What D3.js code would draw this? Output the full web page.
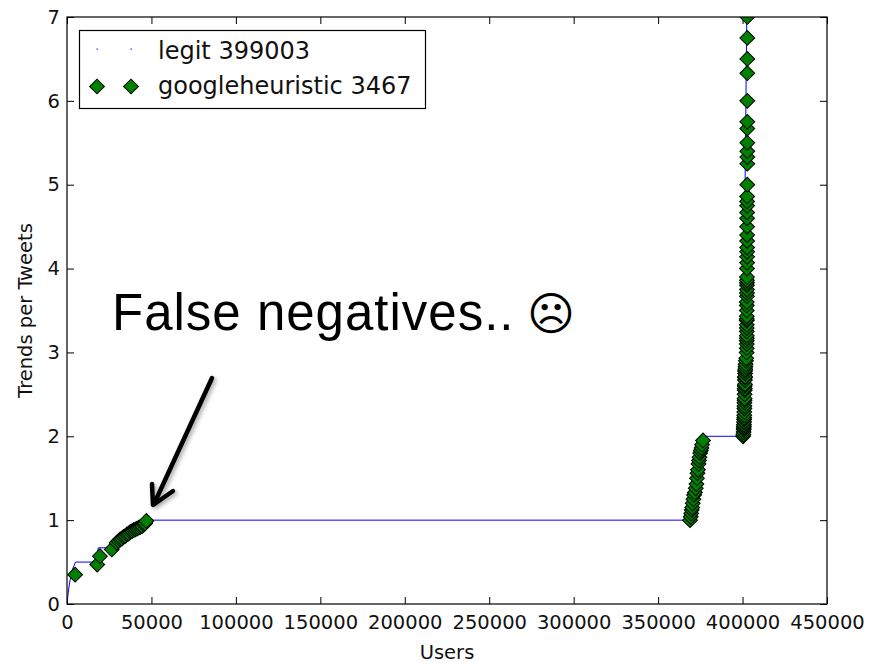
<!DOCTYPE html>
<html>
<head>
<meta charset="utf-8">
<script src="https://cdn.jsdelivr.net/npm/d3@7"></script>
<style>
  body { margin: 0; background: #fff; }
  .axis text { font-family: "DejaVu Sans", sans-serif; font-size: 19.5px; fill: #111; }
  .axis line { stroke: #000; }
</style>
</head>
<body>
<script>
// Chart Params
var svgWidth = 881;
var svgHeight = 664;
var margin = { top: 17, right: 54, bottom: 60, left: 67 };
var width = svgWidth - margin.left - margin.right;
var height = svgHeight - margin.top - margin.bottom;

// ticks
var xTicks = [0, 50000, 100000, 150000, 200000, 250000, 300000, 350000, 400000, 450000];
var yTicks = [0, 1, 2, 3, 4, 5, 6, 7];

// legit series (step-ish curve)
var legitX = [0, 500, 1500, 3000, 5000, 17500, 18500, 25000, 28000, 32000, 36000, 40000, 44000, 48000,
  368000, 369000, 371000, 373000, 375000, 376500, 400000, 400800, 401500, 402500];
var legitY = [0, 0.1, 0.25, 0.4, 0.5, 0.5, 0.67, 0.67, 0.75, 0.8, 0.85, 0.9, 0.95, 1.0,
  1.0, 1.1, 1.3, 1.5, 1.75, 2.0, 2.0, 3.0, 5.0, 7.0];

// googleheuristic points, three clusters
var googleLow = [[4800, 0.35], [17900, 0.47], [19500, 0.57], [26500, 0.65], [29400, 0.73], [30500, 0.75],
  [31500, 0.77], [32500, 0.78], [33500, 0.8], [34500, 0.81], [35500, 0.83], [36500, 0.84], [37500, 0.86],
  [38500, 0.87], [39500, 0.88], [40500, 0.89], [41500, 0.9], [42500, 0.91], [43500, 0.92], [44500, 0.93],
  [45500, 0.95], [46200, 0.96], [47000, 0.99]];
var googleMid = [[368900, 1.0], [369300, 1.04], [369600, 1.08], [369900, 1.12], [370200, 1.15], [370500, 1.2],
  [370900, 1.25], [371300, 1.3], [371800, 1.33], [372300, 1.38], [372700, 1.43], [373000, 1.5],
  [373300, 1.56], [373600, 1.6], [373900, 1.67], [374200, 1.71], [374500, 1.75], [374900, 1.8],
  [375300, 1.83], [375700, 1.86], [376000, 1.9], [376600, 1.95]];
var googleHigh = [[400300, 2.0], [400500, 2.02], [400600, 2.05], [400700, 2.08], [400700, 2.1], [400800, 2.12],
  [400800, 2.14], [400900, 2.17], [400900, 2.2], [401000, 2.22], [401000, 2.25], [401000, 2.29], [401100, 2.33],
  [401100, 2.36], [401100, 2.4], [401200, 2.43], [401200, 2.45], [401200, 2.5], [401300, 2.55], [401300, 2.57],
  [401300, 2.6], [401400, 2.62], [401400, 2.67], [401400, 2.7], [401500, 2.71], [401500, 2.75], [401500, 2.78],
  [401600, 2.8], [401700, 2.83], [401800, 2.86], [402000, 2.9], [402200, 2.93], [402400, 3.0], [402500, 3.05],
  [402500, 3.1], [402500, 3.14], [402500, 3.17], [402500, 3.2], [402500, 3.25], [402500, 3.29], [402500, 3.33],
  [402500, 3.38], [402500, 3.4], [402500, 3.43], [402500, 3.5], [402500, 3.56], [402500, 3.6], [402600, 3.67],
  [402600, 3.71], [402600, 3.75], [402600, 3.8], [402600, 3.83], [402600, 3.86], [402600, 3.9], [402600, 4.0],
  [402700, 4.07], [402700, 4.14], [402700, 4.2], [402700, 4.25], [402700, 4.33], [402700, 4.4], [402700, 4.5],
  [402700, 4.6], [402700, 4.67], [402700, 4.75], [402700, 4.8], [402700, 4.86], [402800, 5.0], [402800, 5.25],
  [402800, 5.33], [402800, 5.4], [402800, 5.5], [402800, 5.67], [402800, 5.75], [402800, 6.0], [402800, 6.33],
  [402800, 6.5], [402800, 6.75], [402800, 7.0]];

var legendLabels = ["legit 399003", "googleheuristic 3467"];

var svg = d3.select("body")
  .append("svg")
  .attr("width", svgWidth)
  .attr("height", svgHeight);

var defs = svg.append("defs");
defs.append("clipPath").attr("id", "plotclip")
  .append("rect").attr("width", width).attr("height", height);
var shadow = defs.append("filter").attr("id", "shadow")
  .attr("x", "-50%").attr("y", "-50%").attr("width", "200%").attr("height", "200%");
shadow.append("feDropShadow").attr("dx", 2).attr("dy", 2).attr("stdDeviation", 2)
  .attr("flood-color", "#000").attr("flood-opacity", 0.35);

var chartGroup = svg.append("g")
  .attr("transform", `translate(${margin.left}, ${margin.top})`);

// scales
var xScale = d3.scaleLinear().domain([0, 450000]).range([0, width]);
var yScale = d3.scaleLinear().domain([0, 7]).range([height, 0]);
var plain = d3.format("d");

// axes with inward ticks on all four sides
chartGroup.append("g")
  .attr("class", "axis")
  .attr("transform", `translate(0, ${height})`)
  .call(d3.axisBottom(xScale).tickValues(xTicks).tickFormat(plain).tickSizeInner(-7).tickSizeOuter(0).tickPadding(11))
  .call(g => g.select(".domain").remove());

chartGroup.append("g")
  .attr("class", "axis")
  .call(d3.axisTop(xScale).tickValues(xTicks).tickSizeInner(-7).tickSizeOuter(0).tickFormat(""))
  .call(g => g.select(".domain").remove());

chartGroup.append("g")
  .attr("class", "axis")
  .call(d3.axisLeft(yScale).tickValues(yTicks).tickFormat(plain).tickSizeInner(-7).tickSizeOuter(0).tickPadding(7))
  .call(g => g.select(".domain").remove());

chartGroup.append("g")
  .attr("class", "axis")
  .attr("transform", `translate(${width}, 0)`)
  .call(d3.axisRight(yScale).tickValues(yTicks).tickSizeInner(-7).tickSizeOuter(0).tickFormat(""))
  .call(g => g.select(".domain").remove());

var plot = chartGroup.append("g").attr("clip-path", "url(#plotclip)");

// legit line
var legitLine = d3.line()
  .x((d, i) => xScale(legitX[i]))
  .y((d, i) => yScale(legitY[i]));

plot.append("path")
  .datum(legitX)
  .attr("d", legitLine)
  .attr("fill", "none")
  .attr("stroke", "#0000ff")
  .attr("stroke-width", 1);

// diamonds
var diamond = d3.symbol().type(d3.symbolSquare).size(110);
var allGoogle = googleLow.concat(googleMid).concat(googleHigh);

plot.selectAll(".gh")
  .data(allGoogle)
  .enter()
  .append("path")
  .attr("class", "gh")
  .attr("d", diamond)
  .attr("transform", d => `translate(${xScale(d[0])}, ${yScale(d[1])}) rotate(45)`)
  .attr("fill", "#008000")
  .attr("stroke", "#000")
  .attr("stroke-width", 1);

// frame
chartGroup.append("rect")
  .attr("width", width)
  .attr("height", height)
  .attr("fill", "none")
  .attr("stroke", "#000")
  .attr("stroke-width", 1.2);

// axis titles
svg.append("text")
  .attr("text-anchor", "middle")
  .attr("x", margin.left + width / 2)
  .attr("y", 659)
  .style("font-family", "DejaVu Sans, sans-serif")
  .style("font-size", "19.5px")
  .attr("fill", "#111")
  .text("Users");

svg.append("text")
  .attr("text-anchor", "middle")
  .attr("transform", `translate(32, ${margin.top + height / 2}) rotate(-90)`)
  .style("font-family", "DejaVu Sans, sans-serif")
  .style("font-size", "19.5px")
  .attr("fill", "#111")
  .text("Trends per Tweets");

// legend
var legend = svg.append("g");
legend.append("rect")
  .attr("x", 79.5).attr("y", 30.5)
  .attr("width", 346).attr("height", 78)
  .attr("fill", "#fff")
  .attr("stroke", "#000")
  .attr("stroke-width", 1.2);

[97, 131].forEach(function(px) {
  legend.append("rect")
    .attr("x", px - 0.5).attr("y", 48.5)
    .attr("width", 1.2).attr("height", 1.2)
    .attr("fill", "#0000ff");
  legend.append("path")
    .attr("d", diamond)
    .attr("transform", `translate(${px}, 86.5) rotate(45)`)
    .attr("fill", "#008000")
    .attr("stroke", "#000");
});

legend.selectAll(".lt")
  .data(legendLabels)
  .enter()
  .append("text")
  .attr("x", 158)
  .attr("y", (d, i) => 58.5 + i * 35)
  .style("font-family", "DejaVu Sans, sans-serif")
  .style("font-size", "24px")
  .attr("fill", "#111")
  .text(d => d);

// annotation
svg.append("text")
  .attr("x", 112)
  .attr("y", 330)
  .style("font-family", "Liberation Sans, Arial, sans-serif")
  .style("font-size", "51px")
  .style("letter-spacing", "1px")
  .attr("fill", "#000")
  .text("False negatives..");

svg.append("text")
  .attr("x", 527)
  .attr("y", 330)
  .style("font-family", "DejaVu Sans, sans-serif")
  .style("font-size", "46px")
  .attr("fill", "#000")
  .text("\u2639");

var arrow = svg.append("g").attr("filter", "url(#shadow)")
  .attr("stroke", "#000").attr("stroke-width", 4.5).attr("fill", "none")
  .attr("stroke-linecap", "round").attr("stroke-linejoin", "round");
arrow.append("line").attr("x1", 212).attr("y1", 378).attr("x2", 154).attr("y2", 504);
arrow.append("polyline").attr("points", "152,484 153,505 173,491");
</script>
</body>
</html>
